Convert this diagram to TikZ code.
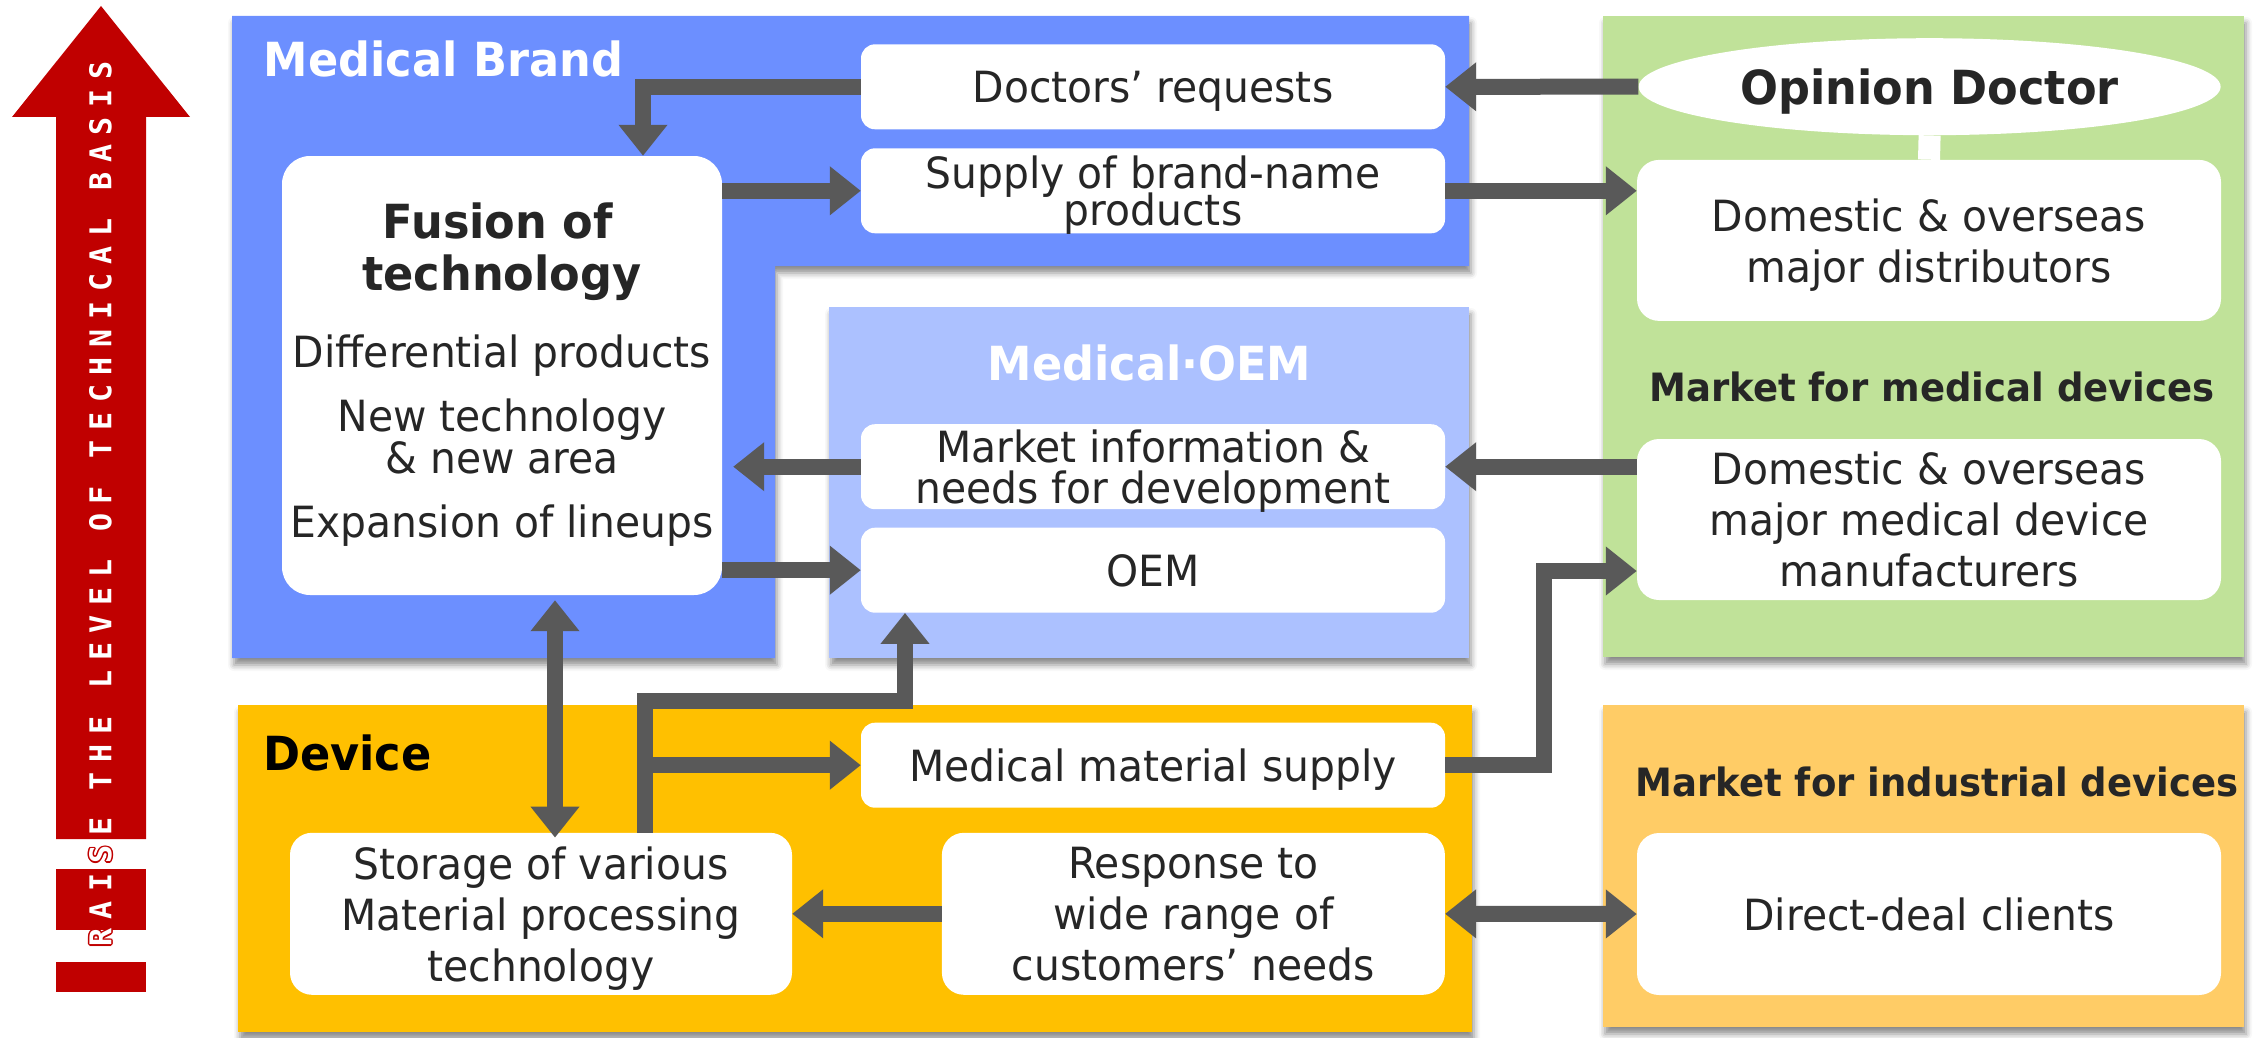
\documentclass[tikz,border=0pt]{standalone}
\usepackage{fontspec}
\setmainfont{DejaVu Sans}[FakeStretch=0.95]
\newfontfamily\raisefont{DejaVu Sans Mono}[LetterSpace=32.3]
\usetikzlibrary{arrows.meta,shapes.geometric,shadows.blur}

\definecolor{brandblue}{RGB}{108,143,255}
\definecolor{oemblue}{RGB}{172,193,255}
\definecolor{mktgreen}{RGB}{192,226,153}
\definecolor{devorange}{RGB}{255,192,0}
\definecolor{indorange}{RGB}{255,204,102}
\definecolor{arrowgray}{RGB}{89,89,89}
\definecolor{raisered}{RGB}{192,0,0}
\definecolor{txtgray}{RGB}{38,38,38}

\begin{document}
\begin{tikzpicture}[x=1pt, y=-1pt, >={Triangle[width=47pt,length=31pt]},
		panel/.style={blur shadow={shadow xshift=2pt, shadow yshift=-7pt, shadow blur radius=6pt, shadow opacity=45}},
		wbox/.style={fill=white, rounded corners=14pt, inner sep=0pt, align=center, text=txtgray, text depth=0pt,
				font={\fontsize{43}{51}\selectfont\lineskiplimit=-100pt}},
		bigbox/.style={wbox, rounded corners=22pt},
		plaintext/.style={inner sep=0pt, text=txtgray, font={\fontsize{43}{51}\selectfont}},
		bigtitle/.style={inner sep=0pt, font={\bfseries\fontsize{47}{52}\selectfont}},
		mkttitle/.style={inner sep=0pt, text=txtgray, font={\bfseries\fontsize{39}{44}\selectfont}},
		raisetext/.style={rotate=90, anchor=west, inner sep=0pt, font={\raisefont\bfseries\fontsize{30}{30}\selectfont}},
		garrow/.style={draw=arrowgray, line width=16pt, ->},
		dgarrow/.style={draw=arrowgray, line width=16pt, <->}]
		\useasboundingbox (0,0) rectangle (2261,1038);

		% 左侧红色箭头
		\fill[raisered] (56,839) -- (56,117) -- (12,117) -- (101,6) -- (190,117) -- (146,117) -- (146,839) -- cycle;
		\fill[raisered] (56,869) rectangle (146,930);
		\fill[raisered] (56,962) rectangle (146,992);
		% 文字的红色描边, 再叠白色文字
		\foreach \dx/\dy [count=\k] in {1.5/0, -1.5/0, 0/1.5, 0/-1.5, 1/1, -1/1, 1/-1, -1/-1}
			\node[raisetext, text=raisered] (raiseedge\k) at (100.5+\dx, 947+\dy) {RAISE THE LEVEL OF TECHNICAL BASIS};
		\node[raisetext, text=white] (raise) at (100.5, 947) {RAISE THE LEVEL OF TECHNICAL BASIS};

		% 四个底色区域
		\fill[brandblue, panel] (232,16) -- (1469,16) -- (1469,266) -- (775,266) -- (775,658) -- (232,658) -- cycle;
		\fill[oemblue, panel] (829,307) rectangle (1469,658);
		\fill[mktgreen, panel] (1603,16) rectangle (2244,657);
		\fill[devorange, panel] (238,705) rectangle (1472,1032);
		\fill[indorange, panel] (1603,705) rectangle (2244,1027);

		% 区域标题
		\node[bigtitle, text=white, anchor=base west] (brandtitle) at (263.5,77) {Medical Brand};
		\node[bigtitle, text=white, anchor=base] (oemtitle) at (1149.5,380) {Medical·OEM};
		\node[bigtitle, text=black, anchor=base west] (devtitle) at (263,770.7) {Device};
		\node[mkttitle, anchor=base] (medmkt) at (1932,401.7) {Market for medical devices};
		\node[mkttitle, anchor=base] (indmkt) at (1937,796.7) {Market for industrial devices};

		% Medical Brand 里的方框
		\node[wbox, minimum width=584pt, minimum height=85pt] (doc) at (1153,86.8) {Doctors' requests};
		\node[wbox, minimum width=584pt, minimum height=85pt, font={\fontsize{43}{37}\selectfont\lineskiplimit=-100pt}] (supply) at (1153,190.8) {Supply of brand-name\\products};
		\node[wbox, rounded corners=28pt, minimum width=440pt, minimum height=439pt] (fusion) at (502,375.5) {};
		\node[bigtitle, text=txtgray, anchor=base] (fusiontitle1) at (498,238) {Fusion of};
		\node[bigtitle, text=txtgray, anchor=base] (fusiontitle2) at (502,290) {technology};
		\foreach \y/\t [count=\k] in {367/Differential products, 431/New technology, 473/\& new area, 537/Expansion of lineups}
			\node[plaintext, anchor=base] (fusionline\k) at (502,\y) {\t};

		% Medical OEM 里的方框
		\node[wbox, minimum width=584pt, minimum height=85pt, font={\fontsize{43}{41}\selectfont\lineskiplimit=-100pt}] (mkt) at (1153,466.7) {Market information \&\\needs for development};
		\node[wbox, minimum width=584pt, minimum height=85pt] (oem) at (1153,570.2) {OEM};

		% 右侧市场
		\node[ellipse, fill=white, minimum width=582pt, minimum height=97pt, inner sep=0pt, text=txtgray, text depth=0pt,
			font={\bfseries\fontsize{47}{52}\selectfont}] (opinion) at (1929.6,86.7) {Opinion Doctor};
		\node[bigbox, minimum width=584pt, minimum height=161pt] (dist) at (1929,240.4) {Domestic \& overseas\\major distributors};
		\draw[white, line width=22pt] (opinion.south) -- (dist.north);
		\node[bigbox, minimum width=584pt, minimum height=161pt] (mfr) at (1929,519.5) {Domestic \& overseas\\major medical device\\manufacturers};
		\node[bigbox, minimum width=584pt, minimum height=162pt] (direct) at (1929,914) {Direct-deal clients};

		% Device 里的方框
		\node[wbox, minimum width=584pt, minimum height=85pt] (medsup) at (1153,765.2) {Medical material supply};
		\node[bigbox, minimum width=502pt, minimum height=162pt] (storage) at (541,913.8) {Storage of various\\Material processing\\technology};
		\node[bigbox, minimum width=503pt, minimum height=162pt] (resp) at (1193.4,913.8) {Response to\\wide range of\\customers' needs};

		% 灰色箭头
		\draw[garrow] (doc.west) -| ([xshift=141pt]fusion.north);
		\draw[garrow] (fusion.east |- supply.west) -- (supply.west);
		\draw[garrow] (opinion.west) -- (doc.east);
		\draw[garrow] (supply.east) -- (dist.west |- supply.east);
		\draw[garrow] (mfr.west |- mkt.east) -- (mkt.east);
		\draw[garrow] (mkt.west) -- ([xshift=11pt]fusion.east |- mkt.west);
		\draw[garrow] (fusion.east |- oem.west) -- (oem.west);
		\draw[dgarrow] ([xshift=53pt, yshift=-5pt]fusion.south) -- ([xshift=53pt, yshift=-5pt]fusion.south |- storage.north);

		% 从 Storage 出发的分叉箭头
		\coordinate (split) at (645,700.5);
		\draw[garrow] (storage.north -| split) -- (split) -| ([xshift=-248pt]oem.south);
		\draw[garrow] (split |- medsup.west) -- (medsup.west);
		\coordinate (turn) at (1544,571);
		\draw[garrow] (medsup.east) -| (turn) -- (mfr.west |- turn);
		\draw[garrow] (resp.west) -- (storage.east);
		\draw[dgarrow] (resp.east) -- (direct.west);
	\end{tikzpicture}
\end{document}
